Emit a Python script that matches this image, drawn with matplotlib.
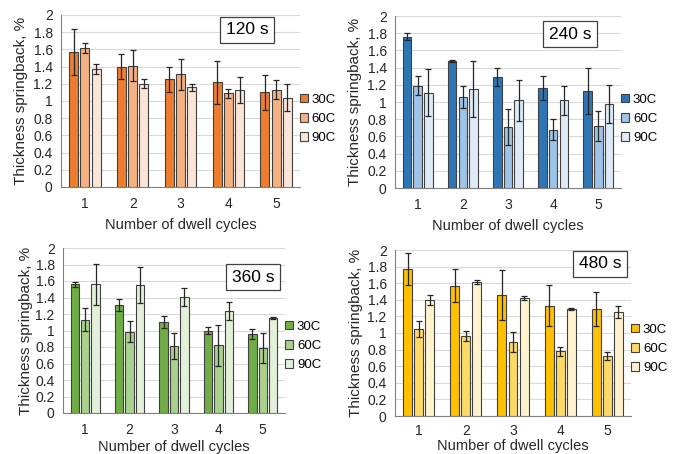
import matplotlib
matplotlib.use("Agg")
import matplotlib.pyplot as plt
import numpy as np
from matplotlib.patches import Patch
from matplotlib.ticker import FuncFormatter, MultipleLocator

plt.rcParams['font.family'] = ['Liberation Sans', 'DejaVu Sans']

cycles = [1, 2, 3, 4, 5]
temps = ["30C", "60C", "90C"]
titles = ["120 s", "240 s", "360 s", "480 s"]

# 120 s
m120_30 = [1.57, 1.40, 1.25, 1.22, 1.10]
m120_60 = [1.62, 1.41, 1.31, 1.09, 1.13]
m120_90 = [1.37, 1.20, 1.16, 1.13, 1.04]
e120_30 = [0.27, 0.15, 0.15, 0.25, 0.20]
e120_60 = [0.06, 0.18, 0.18, 0.05, 0.11]
e120_90 = [0.06, 0.05, 0.04, 0.15, 0.16]

# 240 s
m240_30 = [1.76, 1.475, 1.29, 1.16, 1.13]
m240_60 = [1.19, 1.06, 0.71, 0.68, 0.72]
m240_90 = [1.11, 1.15, 1.02, 1.02, 0.98]
e240_30 = [0.04, 0.01, 0.10, 0.14, 0.27]
e240_60 = [0.11, 0.13, 0.21, 0.12, 0.17]
e240_90 = [0.27, 0.33, 0.24, 0.17, 0.22]

# 360 s
m360_30 = [1.56, 1.31, 1.10, 1.00, 0.96]
m360_60 = [1.13, 0.985, 0.81, 0.82, 0.79]
m360_90 = [1.56, 1.555, 1.41, 1.24, 1.15]
e360_30 = [0.03, 0.07, 0.07, 0.04, 0.06]
e360_60 = [0.14, 0.13, 0.16, 0.25, 0.18]
e360_90 = [0.25, 0.22, 0.11, 0.11, 0.01]

# 480 s
m480_30 = [1.77, 1.57, 1.46, 1.33, 1.29]
m480_60 = [1.05, 0.96, 0.89, 0.78, 0.72]
m480_90 = [1.40, 1.615, 1.42, 1.29, 1.255]
e480_30 = [0.19, 0.20, 0.30, 0.25, 0.20]
e480_60 = [0.10, 0.06, 0.12, 0.055, 0.05]
e480_90 = [0.06, 0.025, 0.02, 0.01, 0.075]

colors = [
    ["#ED7D31", "#F4B183", "#FBE5D6"],
    ["#2E75B6", "#9DC3E6", "#DEEBF7"],
    ["#70AD47", "#A9D18E", "#E2F0D9"],
    ["#FFC000", "#FFD966", "#FFF2CC"],
]

means = [
    [m120_30, m120_60, m120_90],
    [m240_30, m240_60, m240_90],
    [m360_30, m360_60, m360_90],
    [m480_30, m480_60, m480_90],
]
errs = [
    [e120_30, e120_60, e120_90],
    [e240_30, e240_60, e240_90],
    [e360_30, e360_60, e360_90],
    [e480_30, e480_60, e480_90],
]

W, H = 676, 454
fig = plt.figure(figsize=(W / 100, H / 100), dpi=100)

# pixel boxes: left, right, top, bottom
boxes = [(61, 300, 15, 187), (395, 621, 16, 188), (63, 285, 248, 413), (395, 631, 250, 416)]
legend_y = [119, 119, 346, 349]
label_pos = [(0.778, 0.913), (0.774, 0.895), (0.856, 0.824), (0.869, 0.916)]
xlabel_pad = [5, 5, 2.5, 0.5]
ylabel_pad = [3.5, 3.5, 2, 3]

for i in range(4):
    l, r, t, b = boxes[i]
    ax = fig.add_axes([l / W, 1 - b / H, (r - l) / W, (b - t) / H])
    x = np.array(cycles, dtype=float)
    width = 0.19
    step = 0.235
    for j in range(3):
        ax.bar(x + (j - 1) * step, means[i][j], width, color=colors[i][j],
               edgecolor="#404040", linewidth=0.8, zorder=3,
               yerr=errs[i][j], error_kw=dict(ecolor="#262626", elinewidth=0.9,
                                               capsize=2, capthick=0.9, zorder=4))
    ax.set_xlim(0.5, 5.5)
    ax.set_ylim(0, 2)
    ax.yaxis.set_major_locator(MultipleLocator(0.2))
    ax.yaxis.set_major_formatter(FuncFormatter(lambda v, p: "%g" % round(v, 2)))
    ax.set_xticks(cycles)
    ax.set_xticklabels([str(c) for c in cycles])
    ax.grid(axis="y", color="#D9D9D9", linewidth=0.8, zorder=0)
    ax.set_axisbelow(True)
    for s in ["top", "right"]:
        ax.spines[s].set_visible(False)
    ax.spines["left"].set_color("#808080")
    ax.spines["bottom"].set_color("#808080")
    ax.tick_params(axis="both", length=0, labelsize=10, colors="#262626")
    ax.tick_params(axis="x", pad=7 if i < 3 else 6)
    ax.tick_params(axis="y", pad=6)
    ax.set_xlabel("Number of dwell cycles", fontsize=10.5, labelpad=xlabel_pad[i], color="#262626")
    ax.set_ylabel("Thickness springback, %", fontsize=11, labelpad=ylabel_pad[i], color="#262626")
    ax.text(label_pos[i][0], label_pos[i][1], titles[i], transform=ax.transAxes,
            ha="center", va="center", fontsize=12.5, color="#000000",
            bbox=dict(boxstyle="square,pad=0.33", facecolor="white", edgecolor="#404040", linewidth=0.9),
            zorder=5)
    handles = [Patch(facecolor=colors[i][j], edgecolor="#404040", linewidth=0.8) for j in range(3)]
    ly = (b - legend_y[i]) / (b - t)
    ax.legend(handles, temps, loc="center left", bbox_to_anchor=(1.0, ly), frameon=False,
              handlelength=0.6, handleheight=0.6, handletextpad=0.3, borderaxespad=0.0,
              borderpad=0.0, labelspacing=0.55, fontsize=9.5)

fig.savefig("out.png", dpi=100)
